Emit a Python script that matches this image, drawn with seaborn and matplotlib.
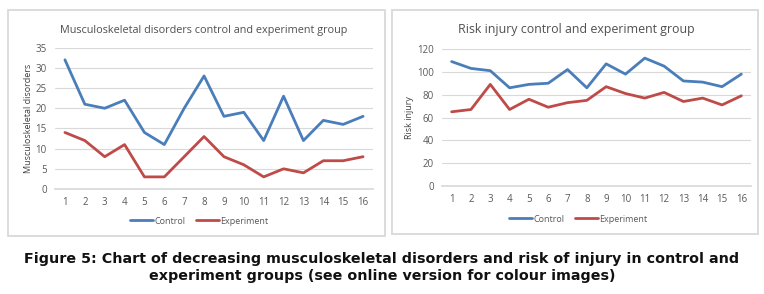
import numpy as np
import pandas as pd
import matplotlib
matplotlib.use('Agg')
import matplotlib.pyplot as plt
import seaborn as sns
from matplotlib.patches import Rectangle
from matplotlib.lines import Line2D

# data
subjects = list(range(1, 17))
msd_control = [32, 21, 20, 22, 14, 11, 20, 28, 18, 19, 12, 23, 12, 17, 16, 18]
msd_experiment = [14, 12, 8, 11, 3, 3, 8, 13, 8, 6, 3, 5, 4, 7, 7, 8]
risk_control = [109, 103, 101, 86, 89, 90, 102, 86, 107, 98, 112, 105, 92, 91, 87, 98]
risk_experiment = [65, 67, 89, 67, 76, 69, 73, 75, 87, 81, 77, 82, 74, 77, 71, 79]
groups = ['Control', 'Experiment']

msd_title = 'Musculoskeletal disorders control and experiment group'
risk_title = 'Risk injury control and experiment group'
caption = ('Figure 5: Chart of decreasing musculoskeletal disorders and risk of injury in control and\n'
           'experiment groups (see online version for colour images)')

sns.set_theme(style='white')
plt.rcParams['font.family'] = ['Open Sans', 'DejaVu Sans']

palette = {'Control': '#4A7EBB', 'Experiment': '#BE4B48'}
txt_grey = '#595959'
grid_grey = '#D9D9D9'

def long_df(ctrl, exp):
    df = pd.DataFrame({'subject': subjects, 'Control': ctrl, 'Experiment': exp})
    return pd.melt(df, id_vars=['subject'], value_vars=groups,
                   var_name='group', value_name='value')

fig = plt.figure(figsize=(7.64, 2.94), dpi=100)
W, H = 764, 294

def fx(px):
    return px / W

def fy(py):
    return 1 - py / H

# chart frames
for (x0, y0, x1, y1) in [(8, 10, 385, 236), (392, 10, 758, 234)]:
    fig.patches.append(Rectangle((fx(x0), fy(y1)), fx(x1 - x0), (y1 - y0) / H,
                                 transform=fig.transFigure, fill=False,
                                 edgecolor=grid_grey, lw=1.3))

def draw_panel(rect, data, yticks, ylabel, title, title_xy, title_size,
               legend_xy, ylabel_x):
    l, t, r, b = rect
    ax = fig.add_axes([fx(l), fy(b), fx(r - l), (b - t) / H])
    sns.lineplot(data=data, x='subject', y='value', hue='group', palette=palette,
                 lw=2, ax=ax, legend=False)
    ax.set_xlim(0.5, 16.5)
    ax.set_ylim(yticks[0], yticks[-1])
    ax.set_yticks(yticks)
    ax.set_xticks(subjects)
    ax.yaxis.grid(True, color=grid_grey, lw=0.8)
    ax.xaxis.grid(False)
    for s in ['top', 'right', 'left']:
        ax.spines[s].set_visible(False)
    ax.spines['bottom'].set_color(grid_grey)
    ax.tick_params(axis='both', labelsize=7, colors=txt_grey, length=0, pad=6)
    ax.set_xlabel('')
    ax.set_ylabel('')
    fig.text(fx(ylabel_x), (fy(t) + fy(b)) / 2, ylabel, rotation=90, ha='center',
             va='center', fontsize=6.5, color='#404040')
    fig.text(fx(title_xy[0]), fy(title_xy[1]), title, ha='center', va='center',
             fontsize=title_size, color='#505050')
    handles = [Line2D([], [], color=palette[g], lw=2) for g in groups]
    fig.legend(handles, groups, loc='center', ncol=2, frameon=False,
               bbox_to_anchor=(fx(legend_xy[0]), fy(legend_xy[1])),
               fontsize=6.5, labelcolor=txt_grey, handlelength=2.6,
               handletextpad=0.1, columnspacing=1.2)
    return ax

draw_panel((55, 47.7, 373, 189), long_df(msd_control, msd_experiment),
           list(range(0, 36, 5)), 'Musculoskeletal disorders', msd_title,
           (204, 30), 7.8, (199, 221), 29)
draw_panel((442, 49, 751, 186), long_df(risk_control, risk_experiment),
           list(range(0, 121, 20)), 'Risk injury', risk_title,
           (576, 29), 8.9, (578, 219), 410)

fig.text(0.5, fy(267.5), caption, ha='center', va='center', fontsize=10.3,
         fontweight='bold', family=['DejaVu Sans'], linespacing=1.25, color='#111111')

fig.savefig('out.png', dpi=100)
